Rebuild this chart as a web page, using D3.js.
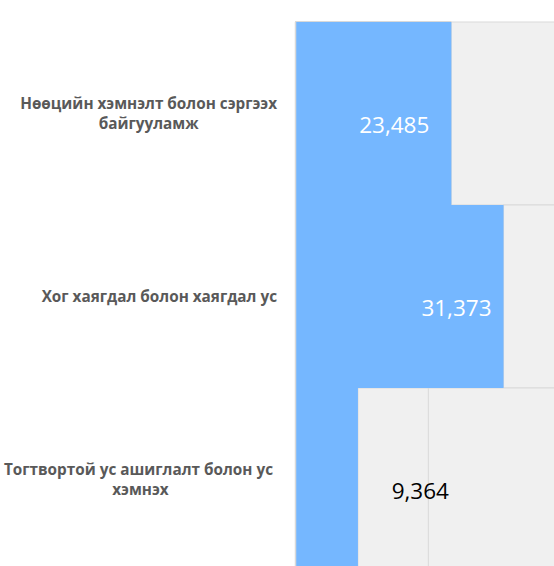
<!DOCTYPE html>
<html>
<head>
<meta charset="utf-8">
<script src="https://cdn.jsdelivr.net/npm/d3@7"></script>
<style>
  body { margin: 0; background: #fff; }
</style>
</head>
<body>
<div id="chart"></div>
<script>
// data
const categories = [
  "Нөөцийн хэмнэлт болон сэргээх|байгууламж",
  "Хог хаягдал болон хаягдал ус",
  "Тогтвортой ус ашиглалт болон ус |хэмнэх"
];
const values = [23485, 31373, 9364];
const totalValue = 40000;           // grey remainder goes up to this
const gridTicks = [20000, 40000];

// layout
const W = 554, H = 566;
const plotLeft = 296, plotTop = 22, plotBottom = 571;
const labelDx = [-22, -12, 91];     // value label end offsets, from bar end
const labelColors = ["#ffffff", "#ffffff", "#000000"];

const svg = d3.select("#chart")
  .append("svg")
    .attr("width", W)
    .attr("height", H);

const x = d3.scaleLinear()
  .domain([0, 20000])
  .range([plotLeft, 428.3]);

const y = d3.scaleBand()
  .domain(categories)
  .range([plotTop, plotBottom])
  .padding(0);

// grey remainder segments
svg.selectAll(".rest")
  .data(categories)
  .enter().append("rect")
  .attr("class", "rest")
  .attr("x", (d, i) => x(values[i]))
  .attr("y", d => y(d))
  .attr("width", (d, i) => x(totalValue) - x(values[i]))
  .attr("height", y.bandwidth())
  .attr("fill", "#f0f0f0")
  .attr("stroke", "#d9d9d9")
  .attr("stroke-width", 1);

// vertical gridlines
svg.append("g")
  .selectAll("line")
  .data(gridTicks)
  .enter().append("line")
  .attr("x1", d => x(d)).attr("x2", d => x(d))
  .attr("y1", plotTop).attr("y2", plotBottom)
  .attr("stroke", "#d9d9d9")
  .attr("stroke-width", 1);

// blue bars
svg.selectAll(".bar")
  .data(categories)
  .enter().append("rect")
  .attr("class", "bar")
  .attr("x", x(0))
  .attr("y", d => y(d))
  .attr("width", (d, i) => x(values[i]) - x(0))
  .attr("height", y.bandwidth())
  .attr("fill", "#75b7ff");

// axis line + top border
svg.append("line")
  .attr("x1", x(0) - 0.5).attr("x2", x(0) - 0.5)
  .attr("y1", plotTop).attr("y2", plotBottom)
  .attr("stroke", "#d9d9d9")
  .attr("stroke-width", 1.5);
svg.append("line")
  .attr("x1", x(0) - 1).attr("x2", x(values[0]))
  .attr("y1", plotTop - 0.5).attr("y2", plotTop - 0.5)
  .attr("stroke", "#d9d9d9")
  .attr("stroke-width", 1);

// value labels
const fmt = d3.format(",");
svg.selectAll(".val")
  .data(categories)
  .enter().append("text")
  .attr("class", "val")
  .attr("x", (d, i) => x(values[i]) + labelDx[i])
  .attr("y", d => y(d) + y.bandwidth() / 2 + 19)
  .attr("text-anchor", "end")
  .style("font-family", "'Open Sans', sans-serif")
  .style("font-size", "22.5px")
  .style("fill", (d, i) => labelColors[i])
  .text((d, i) => fmt(values[i]));

// category labels (wrapped, lines centred, block right-aligned)
const labelRight = 277;
categories.forEach(cat => {
  const lines = cat.split("|");
  const g = svg.append("g");
  const cy = y(cat) + y.bandwidth() / 2;
  const texts = lines.map((ln, j) => g.append("text")
    .attr("y", cy + 5 + (j - (lines.length - 1) / 2) * 20)
    .attr("text-anchor", "middle")
    .style("font-family", "'Open Sans', sans-serif")
    .style("font-weight", "bold")
    .style("font-size", "15.3px")
    .style("fill", "#595959")
    .style("white-space", "pre")
    .text(ln));
  const maxW = d3.max(texts, t => t.node().getComputedTextLength());
  texts.forEach(t => t.attr("x", labelRight - maxW / 2));
});
</script>
</body>
</html>
